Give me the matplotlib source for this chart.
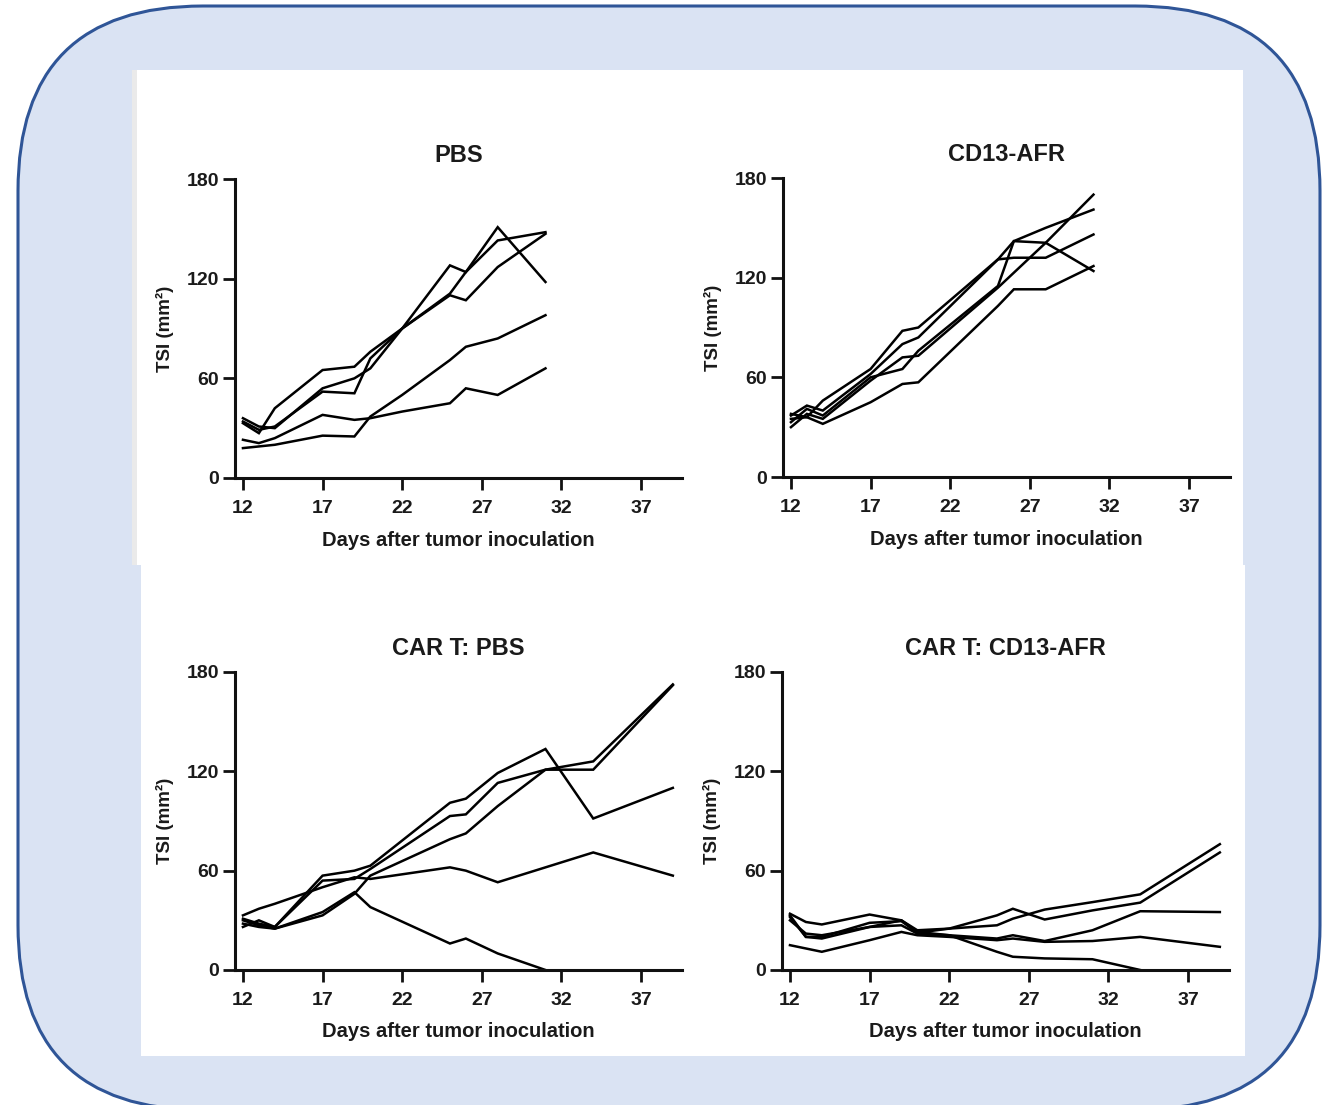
import numpy as np
import matplotlib
matplotlib.use("Agg")
import matplotlib.pyplot as plt
from matplotlib.patches import FancyBboxPatch, Rectangle

plt.rcParams['font.family'] = ['Liberation Sans', 'DejaVu Sans']

# ---------------- data ----------------
titles = ["PBS", "CD13-AFR", "CAR T: PBS", "CAR T: CD13-AFR"]
x_ticks = [12, 17, 22, 27, 32, 37]
y_ticks = [0, 60, 120, 180]
x_label = "Days after tumor inoculation"
y_label = "TSI (mm²)"

pbs_days = [12, 13, 14, 17, 19, 20, 22, 25, 26, 28, 31]
pbs_1 = [33, 27, 42, 65, 67, 76, 90, 128, 124, 151, 118]
pbs_2 = [36, 31, 30, 54, 60, 66, 90, 111, 124, 143, 148]
pbs_3 = [34, 29, 31, 52, 51, 72, 90, 110, 107, 127, 147]
pbs_4 = [23, 21, 24, 38, 35, 36, 40, 45, 54, 50, 66]
pbs_5 = [18, 19, 20, 25.5, 25, 37, 50, 71, 79, 84, 98]

afr_days = [12, 13, 14, 17, 19, 20, 25, 26, 28, 31]
afr_1 = [37, 43, 40, 62, 80, 84, 131, 142, 150, 161]
afr_2 = [35, 36, 46, 65, 88, 90, 131, 132, 132, 146]
afr_3 = [33, 41, 37, 60, 65, 76, 115, 142, 141, 124]
afr_4 = [30, 38, 35, 58, 72, 73, 114, 123, 141, 170]
afr_5 = [38, 36, 32, 45, 56, 57, 103, 113, 113, 127]

cart_pbs_days = [12, 13, 14, 17, 19, 20, 25, 26, 28, 31, 34, 39]
cart_pbs_1 = [26, 30, 26, 57, 60, 63, 101, 103.5, 119, 133.5, 91.5, 110]
cart_pbs_2 = [31, 28, 26, 54, 55, 61, 93, 94, 113, 121, 126, 172.5]
cart_pbs_3 = [30, 27, 25, 33, 46, 57, 79, 82.5, 99, 121, 121, 172]
cart_pbs_4 = [33, 37, 40, 50, 56, 55, 62, 60, 53, 62, 71, 57]
cart_pbs_5 = [28, 26, 25, 35, 47, 38, 16, 19, 10, 0, np.nan, np.nan]

cart_afr_days = [12, 13, 14, 17, 19, 20, 22, 25, 26, 28, 31, 34, 39]
cart_afr_1 = [34, 29, 27.5, 33.5, 30, 24, 25, 27, 31, 36.5, 41, 45.7, 76]
cart_afr_2 = [32, 20, 20, 28.5, 29.5, 22.5, 25, 33, 37, 30.5, 36, 40.7, 71]
cart_afr_3 = [30, 22, 21, 26, 27, 22, 21, 19, 21, 17.5, 24, 35.5, 35]
cart_afr_4 = [15, 13, 11, 18, 23, 21, 20, 18, 19, 17, 17.5, 20, 14]
cart_afr_5 = [33, 20, 19, 26, 30, 23, 21, 11, 8, 7, 6.5, 0, np.nan]

panels = [
    (pbs_days, [pbs_1, pbs_2, pbs_3, pbs_4, pbs_5]),
    (afr_days, [afr_1, afr_2, afr_3, afr_4, afr_5]),
    (cart_pbs_days, [cart_pbs_1, cart_pbs_2, cart_pbs_3, cart_pbs_4, cart_pbs_5]),
    (cart_afr_days, [cart_afr_1, cart_afr_2, cart_afr_3, cart_afr_4, cart_afr_5]),
]

# ---------------- figure ----------------
W, H = 1322, 1105
fig = plt.figure(figsize=(W / 100, H / 100), dpi=100, facecolor='white')

bg = fig.add_axes([0, 0, 1, 1])
bg.set_xlim(0, W)
bg.set_ylim(H, 0)
bg.axis('off')
bg.add_patch(FancyBboxPatch((18, 6), 1302, 1104,
                            boxstyle="round,pad=0,rounding_size=185",
                            fc='#DAE3F3', ec='#2F5597', lw=2.2, clip_on=False))
bg.add_patch(Rectangle((132, 70), 1111, 495, fc='white', ec='none'))
bg.add_patch(Rectangle((132, 70), 5, 495, fc='#EAEAEA', ec='none'))
bg.add_patch(Rectangle((141, 565), 1104, 491, fc='white', ec='none'))

# axes positions in pixels: (left, bottom_y_px, top_y_px)
ax_px = [
    (235, 478, 179),
    (783, 477, 178),
    (235, 970, 672),
    (782, 970, 672),
]
ax_w = 447.4

for (left, ybot, ytop), title, (days, series) in zip(ax_px, titles, panels):
    ax = fig.add_axes([left / W, 1 - ybot / H, ax_w / W, (ybot - ytop) / H])
    ax.patch.set_visible(False)
    for s in series:
        ax.plot(days, s, color='black', lw=1.8, solid_joinstyle='miter')
    ax.set_xlim(11.5, 39.6)
    ax.set_ylim(0, 180)
    ax.set_xticks(x_ticks)
    ax.set_yticks(y_ticks)
    for sp in ['top', 'right']:
        ax.spines[sp].set_visible(False)
    for sp in ['left', 'bottom']:
        ax.spines[sp].set_linewidth(2.2)
        ax.spines[sp].set_color('#111111')
    ax.tick_params(axis='both', length=8.5, width=2.0, color='#111111',
                   labelsize=14, labelcolor='#1a1a1a')
    ax.tick_params(axis='x', pad=7)
    ax.tick_params(axis='y', pad=3)
    for lab in ax.get_xticklabels() + ax.get_yticklabels():
        lab.set_fontweight('bold')
    ax.text(0.5, 1.08, title, transform=ax.transAxes, ha='center', va='center',
            fontsize=17, fontweight='bold', color='#1a1a1a')
    ax.text(0.5, -0.208, x_label, transform=ax.transAxes, ha='center', va='center',
            fontsize=14.5, fontweight='bold', color='#1a1a1a')
    ax.text(-0.156, 0.5, y_label, transform=ax.transAxes, ha='center', va='center',
            rotation=90, fontsize=13.5, fontweight='bold', color='#1a1a1a')

fig.savefig('out.png', dpi=100, facecolor='white')
